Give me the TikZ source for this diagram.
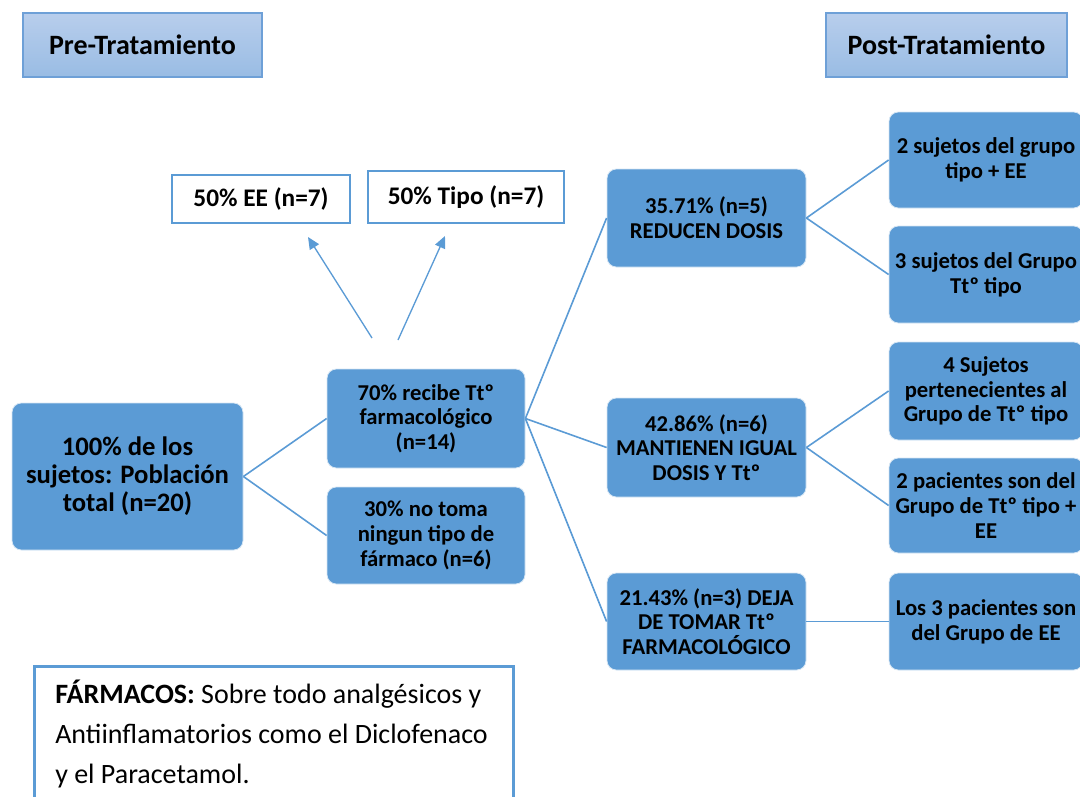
\documentclass[tikz,border=0pt]{standalone}
\usepackage{fontspec}
\setmainfont{Carlito}
\usepackage{tikz}
\usetikzlibrary{arrows.meta}

\definecolor{ofblue}{RGB}{91,155,213}
\definecolor{ofedge}{RGB}{110,160,215}
\definecolor{hdtop}{RGB}{184,206,236}
\definecolor{hdbot}{RGB}{153,188,228}

\tikzset{
  sz/.style 2 args={minimum width=#1*0.75pt, minimum height=#2*0.75pt},
  header/.style={draw=ofedge, line width=1pt, top color=hdtop, bottom color=hdbot,
    inner sep=0pt, font=\fontsize{21}{24}\selectfont\bfseries},
  whitebox/.style={draw=ofblue, line width=1pt, fill=white, inner sep=0pt,
    font=\fontsize{19}{22}\selectfont\bfseries},
  bluebox/.style={draw=white!75!ofblue, line width=0.6pt, fill=ofblue, rounded corners=7pt,
    inner sep=0pt, align=center, font=\fontsize{17}{18.5}\selectfont\bfseries},
  link/.style={draw=ofblue, line width=1.2pt},
  pointer/.style={draw=ofblue, line width=1pt, -{Triangle[length=9pt,width=8pt]}}
}

\begin{document}
\begin{tikzpicture}[x=0.75pt,y=0.75pt,yscale=-1,xscale=1]
\useasboundingbox (0,0) rectangle (1080,796);
\clip (0,0) rectangle (1080,796);

% Headers
\node [header, sz={239}{64}] (pre) at (142.5,45) {Pre-Tratamiento};
\node [header, sz={241}{64}] (post) at (946.5,45) {Post-Tratamiento};

% Pre-tratamiento
\node [whitebox, sz={178}{48}] (ee) at (261,199) {50\% EE (n=7)};
\node [whitebox, sz={196}{52}] (tipo) at (466,197) {50\% Tipo (n=7)};
\node [bluebox, sz={231}{147}, font=\fontsize{20}{21}\selectfont\bfseries] (total) at (127.5,476.5)
  {100\% de los\\sujetos: Población\\total (n=20)};
\node [bluebox, sz={198}{99}] (recibe) at (426,418.5) {70\% recibe Ttº\\farmacológico\\(n=14)};
\node [bluebox, sz={198}{97}] (notoma) at (426,535.5) {30\% no toma\\ningun tipo de\\fármaco (n=6)};

% Post-tratamiento
\node [bluebox, sz={199}{98}] (reducen) at (706.5,218) {35.71\% (n=5)\\REDUCEN DOSIS};
\node [bluebox, sz={199}{99}] (mantienen) at (706.5,447.5) {42.86\% (n=6)\\MANTIENEN IGUAL\\DOSIS Y Ttº};
\node [bluebox, sz={199}{97}] (deja) at (706.5,621.5) {21.43\% (n=3) DEJA\\DE TOMAR Ttº\\FARMACOLÓGICO};

\node [bluebox, sz={194}{96}] (grupoee) at (986,160) {2 sujetos del grupo\\tipo + EE};
\node [bluebox, sz={194}{97}] (grupott) at (986,274.5) {3 sujetos del Grupo\\Ttº tipo};
\node [bluebox, sz={194}{98}] (cuatro) at (986,391) {4 Sujetos\\pertenecientes al\\Grupo de Ttº tipo};
\node [bluebox, sz={194}{95}] (dos) at (986,505.5) {2 pacientes son del\\Grupo de Ttº tipo +\\EE};
\node [bluebox, sz={194}{97}] (tres) at (986,621.5) {Los 3 pacientes son\\del Grupo de EE};

% Note
\node [draw=ofblue, line width=2pt, fill=white, anchor=north west, sz={479}{170}] (farmacos) at (33,665) {};
\node [anchor=north west, inner sep=0pt, align=left,
  font=\fontsize{21}{29.8}\selectfont] (farmacostxt) at (55,680)
  {\textbf{FÁRMACOS:} Sobre todo analgésicos y\\Antiinflamatorios como el Diclofenaco\\y el Paracetamol.};

% Connectors
\coordinate (eefoot) at (372,338);
\coordinate (tipofoot) at (398,340);
\coordinate (eetip) at (308,237);
\coordinate (tipotip) at (445,236);
\draw [pointer] (eefoot) -- (eetip);
\draw [pointer] (tipofoot) -- (tipotip);

\draw [link] (total.east) -- (recibe.west);
\draw [link] (total.east) -- (notoma.west);
\draw [link] (recibe.east) -- (reducen.west);
\draw [link] (recibe.east) -- (mantienen.west);
\draw [link] (recibe.east) -- (deja.west);
\draw [link] (reducen.east) -- (grupoee.west);
\draw [link] (reducen.east) -- (grupott.west);
\draw [link] (mantienen.east) -- (cuatro.west);
\draw [link] (mantienen.east) -- (dos.west);
\draw [link] (deja.east) -- (tres.west);

\end{tikzpicture}
\end{document}
